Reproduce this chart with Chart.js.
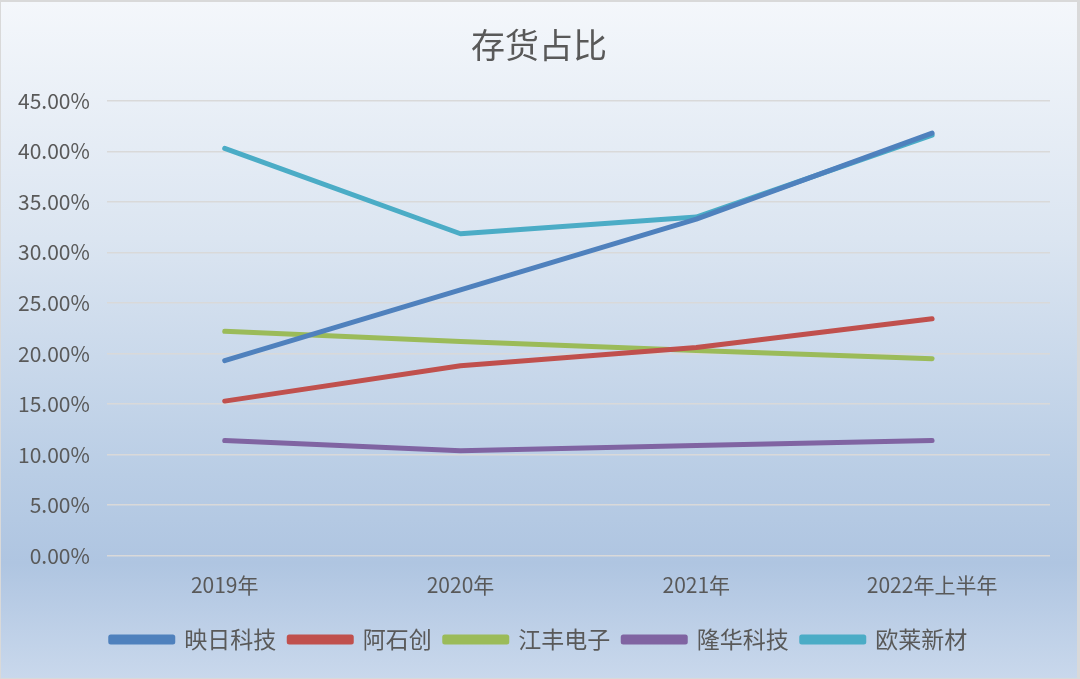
<!DOCTYPE html>
<html>
<head>
<meta charset="utf-8">
<script src="https://cdn.jsdelivr.net/npm/chart.js@4.4.0/dist/chart.umd.min.js"></script>
<style>
  html, body { margin: 0; padding: 0; background: #d9d9d9; }
  #wrap {
    position: absolute; left: 1px; top: 2px; width: 1076px; height: 676px;
    background: linear-gradient(to bottom, #f4f7fb 0%, #dbe5f1 35%, #b9cde5 70%, #afc5e1 83%, #c9d8ec 100%);
  }
  canvas { display: block; }
</style>
</head>
<body>
<div id="wrap"><canvas id="chart" width="1076" height="676"></canvas></div>
<script>
// Categories and series (inventory share, %)
const periods = ['2019年', '2020年', '2021年', '2022年上半年'];
const yingri = [19.3, 26.3, 33.3, 41.8];   // 映日科技
const ashichuang = [15.3, 18.8, 20.6, 23.45]; // 阿石创
const jiangfeng = [22.2, 21.2, 20.3, 19.5];  // 江丰电子
const longhua = [11.4, 10.4, 10.9, 11.4];    // 隆华科技
const oulai = [40.3, 31.85, 33.5, 41.6];     // 欧莱新材

const font = "'Noto Sans CJK SC', 'Noto Sans', sans-serif";

function line(label, data, color) {
    return {
        label: label,
        data: data,
        borderColor: color,
        backgroundColor: color,
        borderWidth: 5,
        pointRadius: 0,
        tension: 0,
        borderCapStyle: 'round',
        borderJoinStyle: 'round',
    };
}

new Chart(document.getElementById('chart').getContext('2d'), {
    type: 'line',
    data: {
        labels: periods,
        datasets: [
            line('映日科技', yingri, '#4f81bd'),
            line('阿石创', ashichuang, '#c0504d'),
            line('江丰电子', jiangfeng, '#9bbb59'),
            line('隆华科技', longhua, '#8064a2'),
            line('欧莱新材', oulai, '#4bacc6'),
        ],
    },
    options: {
        responsive: false,
        animation: false,
        layout: { padding: { left: 0, right: 0, top: 14, bottom: 17 } },
        plugins: {
            title: {
                display: true,
                text: '存货占比',
                color: '#595959',
                font: { family: font, size: 34, weight: 'normal' },
                padding: { top: 9, bottom: 35 },
            },
            legend: {
                position: 'bottom',
                labels: {
                    color: '#595959',
                    font: { family: font, size: 23 },
                    boxWidth: 62,
                    boxHeight: 5,
                    padding: 13,
                },
            },
            tooltip: { enabled: false },
        },
        scales: {
            x: {
                offset: true,
                grid: { display: false, drawTicks: false },
                border: { display: false },
                ticks: { color: '#595959', font: { family: font, size: 21 }, padding: 17 },
            },
            y: {
                min: 0,
                max: 45,
                grid: { color: '#d9d9d9', lineWidth: 1.5, drawTicks: false },
                border: { display: false },
                ticks: {
                    stepSize: 5,
                    color: '#595959',
                    font: { family: font, size: 21 },
                    padding: 17,
                    callback: v => v.toFixed(2) + '%',
                },
            },
            // empty right-hand margin so title and legend centre on the canvas
            yRight: {
                position: 'right',
                grid: { display: false, drawTicks: false },
                border: { display: false },
                ticks: { display: false },
                afterFit: scale => { scale.width = 27; },
            },
        },
    },
});
</script>
</body>
</html>
